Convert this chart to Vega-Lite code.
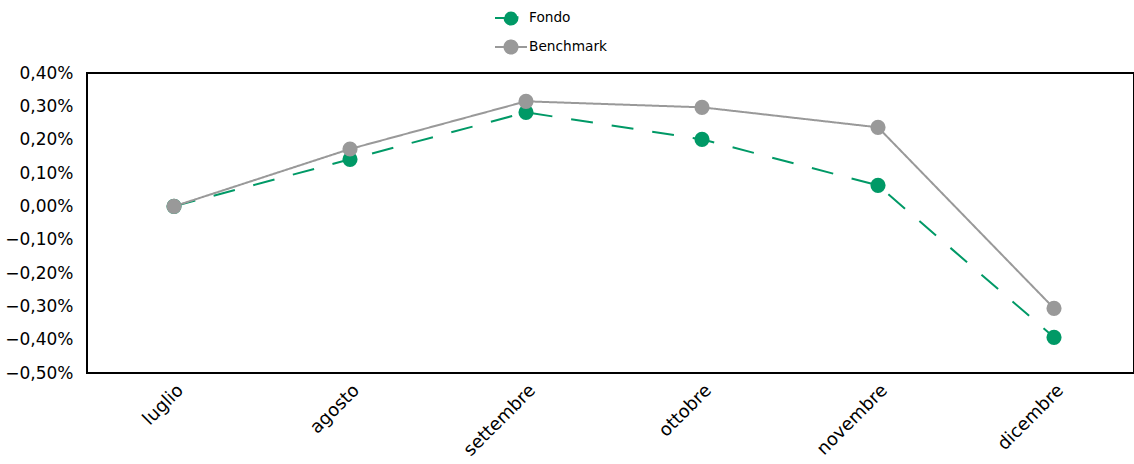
{
  "$schema": "https://vega.github.io/schema/vega-lite/v6.json",
  "autosize": {"type": "none"},
  "padding": {"left": 87, "top": 73, "right": 0, "bottom": 91},
  "width": 1047,
  "height": 300,
  "background": "white",
  "config": {
    "view": {"stroke": "black", "strokeWidth": 2},
    "font": "DejaVu Sans",
    "axis": {"grid": false, "domain": false, "ticks": false, "labelColor": "black", "labelFont": "DejaVu Sans", "title": null}
  },
  "data": {
    "values": [
      {"mese": "luglio", "serie": "Fondo", "valore": 0.0},
      {"mese": "agosto", "serie": "Fondo", "valore": 0.141},
      {"mese": "settembre", "serie": "Fondo", "valore": 0.282},
      {"mese": "ottobre", "serie": "Fondo", "valore": 0.201},
      {"mese": "novembre", "serie": "Fondo", "valore": 0.063},
      {"mese": "dicembre", "serie": "Fondo", "valore": -0.393},
      {"mese": "luglio", "serie": "Benchmark", "valore": 0.0},
      {"mese": "agosto", "serie": "Benchmark", "valore": 0.172},
      {"mese": "settembre", "serie": "Benchmark", "valore": 0.315},
      {"mese": "ottobre", "serie": "Benchmark", "valore": 0.297},
      {"mese": "novembre", "serie": "Benchmark", "valore": 0.237},
      {"mese": "dicembre", "serie": "Benchmark", "valore": -0.306}
    ]
  },
  "encoding": {
    "x": {
      "field": "mese", "type": "nominal", "sort": null,
      "scale": {"type": "point", "padding": 0.4744, "align": 0.521},
      "axis": {"labelAngle": -45, "labelFontSize": 18, "labelPadding": 8}
    },
    "y": {
      "field": "valore", "type": "quantitative",
      "scale": {"domain": [-0.5, 0.4], "nice": false, "zero": false},
      "axis": {
        "values": [-0.5, -0.4, -0.3, -0.2, -0.1, 0, 0.1, 0.2, 0.3, 0.4],
        "labelExpr": "replace(format(datum.value, '.2f'), '.', ',') + '%'",
        "labelFontSize": 17, "labelPadding": 14
      }
    },
    "color": {
      "field": "serie", "type": "nominal",
      "scale": {"domain": ["Fondo", "Benchmark"], "range": ["#009966", "#999999"]},
      "legend": {
        "title": null, "orient": "none", "legendX": 413, "legendY": -66,
        "direction": "vertical",
        "symbolType": "M -1.6 0 L 1.6 0 M -0.65 0 A 0.65 0.65 0 1 0 0.65 0 A 0.65 0.65 0 1 0 -0.65 0",
        "symbolSize": 400, "symbolStrokeWidth": 2, "labelFontSize": 13.7, "labelColor": "black",
        "rowPadding": 7, "labelOffset": 7,
        "encode": {"symbols": {"update": {"fill": {"scale": "color", "field": "value"}, "stroke": {"scale": "color", "field": "value"}, "opacity": {"value": 1}}}}
      }
    }
  },
  "layer": [
    {
      "mark": {"type": "line", "strokeWidth": 2},
      "encoding": {
        "strokeDash": {
          "field": "serie", "type": "nominal",
          "scale": {"domain": ["Fondo", "Benchmark"], "range": [[22, 19], [1, 0]]},
          "legend": null
        }
      }
    },
    {
      "mark": {"type": "point", "filled": true, "size": 230, "opacity": 1}
    }
  ]
}
